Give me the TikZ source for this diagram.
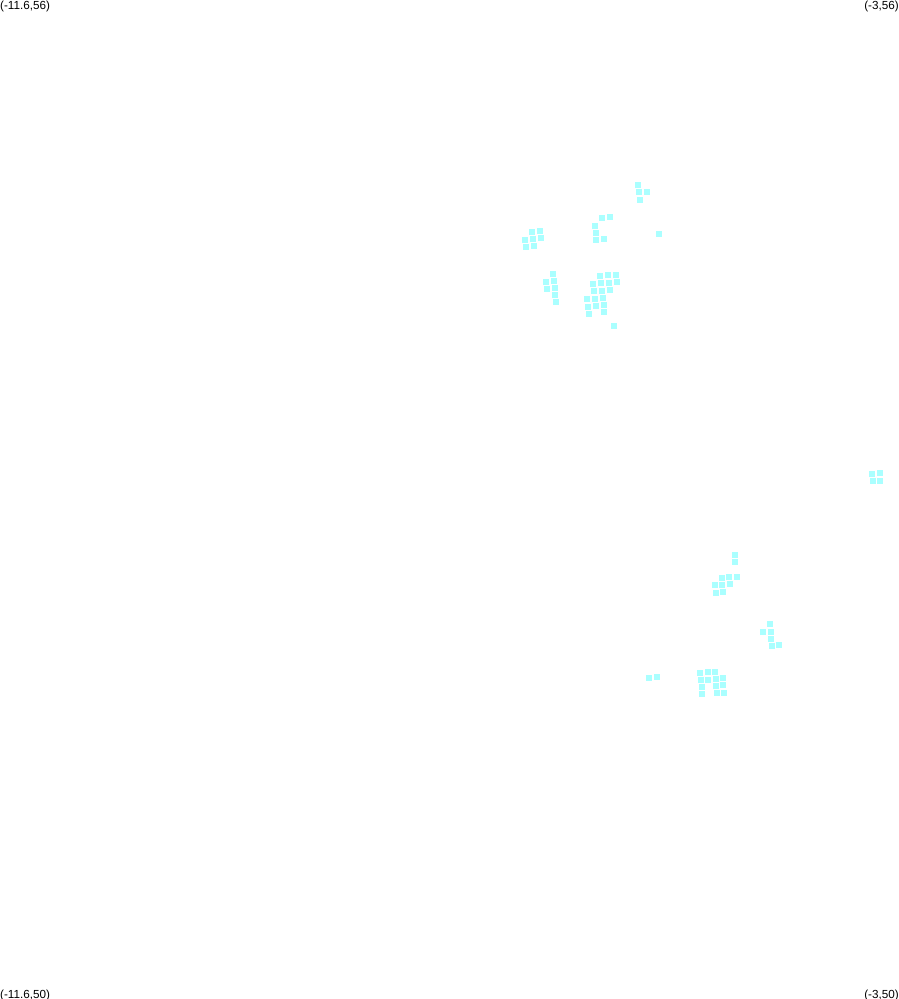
\documentclass[tikz,border=0pt]{standalone}
\usepackage{fontspec}
\setmainfont{Liberation Sans}
\tikzset{
  cell/.style={fill=cellcyan},
  cornerlabel/.style={inner sep=0pt,font=\fontsize{11.7}{12}\selectfont},
}
\definecolor{cellcyan}{HTML}{AAFFFF}
\begin{document}
\begin{tikzpicture}[x=1pt,y=-1pt]
\useasboundingbox (0,0) rectangle (899,999);
\node (TL) at (0,6.5)   [cornerlabel,anchor=west] {(-11.6,56)};
\node (TR) at (899,6.5) [cornerlabel,anchor=east] {(-3,56)};
\node (BL) at (0,995)   [cornerlabel,anchor=west] {(-11.6,50)};
\node (BR) at (899,995) [cornerlabel,anchor=east] {(-3,50)};
% upper clusters
\foreach \x/\y in {638/185,639/192,647/192,640/200,659/234,
  602/218,610/217,595/226,596/233,596/240,604/239,
  532/232,540/231,525/240,533/239,541/238,526/247,534/246,
  553/274,546/282,554/281,547/289,555/288,555/295,556/302,
  600/276,608/275,616/275,593/284,601/283,609/283,617/282,
  594/291,602/291,610/290,587/299,595/299,603/298,
  588/307,596/306,604/305,604/312,589/314,614/326}
  \fill[cell] (\x-3.25,\y-3.25) rectangle (\x+3.25,\y+3.25);
% lower clusters
\foreach \x/\y in {872/474,880/473,873/481,880/481,
  735/555,735/562,722/578,729/577,737/577,715/585,722/585,730/584,716/593,723/592,
  770/624,763/632,771/632,771/639,772/646,779/645,
  649/678,657/677,700/673,708/672,715/672,701/680,708/680,716/679,723/678,
  702/687,716/686,723/685,702/694,717/693,724/693}
  \fill[cell] (\x-3.25,\y-3.25) rectangle (\x+3.25,\y+3.25);
\end{tikzpicture}
\end{document}
